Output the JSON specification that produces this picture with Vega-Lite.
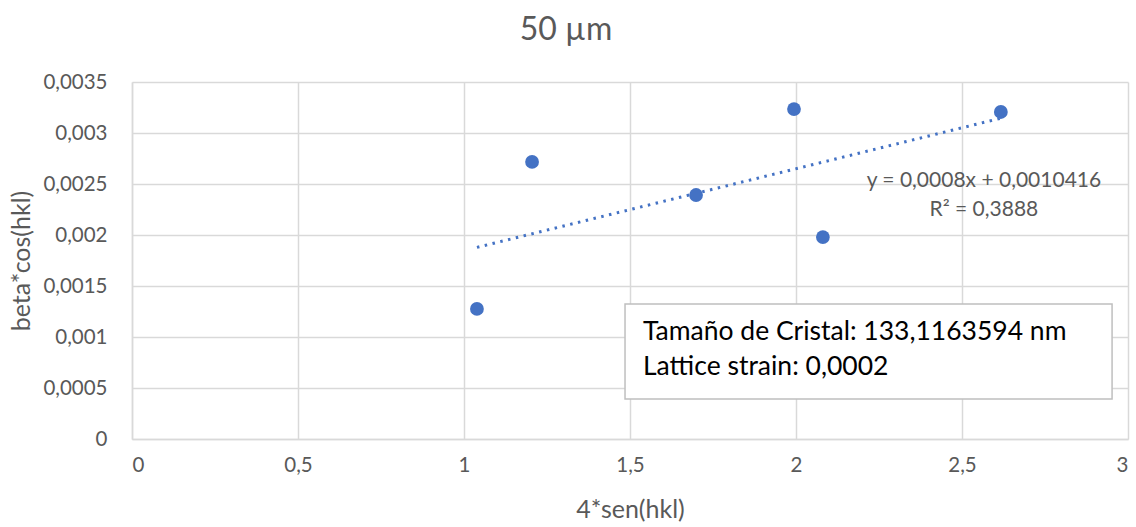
{
  "$schema": "https://vega.github.io/schema/vega-lite/v6.json",
  "autosize": {"type": "none"},
  "width": 996,
  "height": 357,
  "padding": {"left": 132, "top": 82, "right": 8, "bottom": 88},
  "background": "white",
  "title": {
    "text": "50 µm",
    "anchor": "middle",
    "dx": -64,
    "offset": 25,
    "fontSize": 32,
    "fontWeight": "normal",
    "font": "Lato",
    "color": "#595959"
  },
  "config": {
    "locale": {"number": {"decimal": ",", "thousands": ".", "grouping": [3], "currency": ["", " €"]}},
    "view": {"stroke": null},
    "font": "Lato",
    "axis": {
      "labelFont": "Lato",
      "titleFont": "Lato",
      "labelColor": "#595959",
      "titleColor": "#595959",
      "labelFontSize": 20.5,
      "titleFontSize": 25,
      "titleFontWeight": "normal",
      "gridColor": "#d9d9d9",
      "gridWidth": 1.5,
      "domainColor": "#d9d9d9",
      "domainWidth": 1.5,
      "ticks": false
    }
  },
  "datasets": {
    "points": [
      {"x": 1.039, "y": 0.001275},
      {"x": 1.205, "y": 0.002716},
      {"x": 1.699, "y": 0.002392},
      {"x": 1.994, "y": 0.003235},
      {"x": 2.081, "y": 0.00198},
      {"x": 2.617, "y": 0.003206}
    ],
    "labels": [
      {"t": "y = 0,0008x + 0,0010416", "kind": "eq1"},
      {"t": "R² = 0,3888", "kind": "eq2"},
      {"t": "Tamaño de Cristal: 133,1163594 nm", "kind": "box1"},
      {"t": "Lattice strain: 0,0002", "kind": "box2"}
    ]
  },
  "layer": [
    {
      "data": {"name": "points"},
      "transform": [{"regression": "y", "on": "x", "method": "linear"}],
      "mark": {"type": "line", "color": "#4472C4", "strokeWidth": 3, "strokeDash": [2.5, 5.5]},
      "encoding": {
        "x": {
          "field": "x",
          "type": "quantitative",
          "scale": {"domain": [0, 3], "nice": false, "zero": false},
          "axis": {
            "title": "4*sen(hkl)",
            "values": [0, 0.5, 1, 1.5, 2, 2.5, 3],
            "format": "~g",
            "labelPadding": 16,
            "titlePadding": 22
          }
        },
        "y": {
          "field": "y",
          "type": "quantitative",
          "scale": {"domain": [0, 0.0035], "nice": false},
          "axis": {
            "title": "beta*cos(hkl)",
            "values": [0, 0.0005, 0.001, 0.0015, 0.002, 0.0025, 0.003, 0.0035],
            "format": "~g",
            "labelPadding": 25,
            "titlePadding": 8
          }
        }
      }
    },
    {
      "data": {"name": "points"},
      "mark": {"type": "circle", "color": "#4472C4", "opacity": 1, "size": 190},
      "encoding": {
        "x": {"field": "x", "type": "quantitative"},
        "y": {"field": "y", "type": "quantitative"}
      }
    },
    {
      "data": {"name": "labels"},
      "transform": [{"filter": "datum.kind === 'eq1'"}],
      "mark": {"type": "text", "align": "center", "baseline": "middle", "fontSize": 21, "color": "#595959", "font": "Lato"},
      "encoding": {
        "x": {"datum": 2.566},
        "y": {"datum": 0.002529},
        "text": {"field": "t"}
      }
    },
    {
      "data": {"name": "labels"},
      "transform": [{"filter": "datum.kind === 'eq2'"}],
      "mark": {"type": "text", "align": "center", "baseline": "middle", "fontSize": 21, "color": "#595959", "font": "Lato"},
      "encoding": {
        "x": {"datum": 2.566},
        "y": {"datum": 0.002245},
        "text": {"field": "t"}
      }
    },
    {
      "data": {"name": "labels"},
      "transform": [{"filter": "datum.kind === 'box1'"}],
      "mark": {"type": "rect", "fill": "white", "stroke": "#bfbfbf", "strokeWidth": 1.5},
      "encoding": {
        "x": {"datum": 1.485},
        "x2": {"datum": 2.952},
        "y": {"datum": 0.001323},
        "y2": {"datum": 0.000392}
      }
    },
    {
      "data": {"name": "labels"},
      "transform": [{"filter": "datum.kind === 'box1'"}],
      "mark": {"type": "text", "align": "left", "baseline": "middle", "fontSize": 26.5, "color": "#000000", "font": "Lato"},
      "encoding": {
        "x": {"datum": 1.539},
        "y": {"datum": 0.001049},
        "text": {"field": "t"}
      }
    },
    {
      "data": {"name": "labels"},
      "transform": [{"filter": "datum.kind === 'box2'"}],
      "mark": {"type": "text", "align": "left", "baseline": "middle", "fontSize": 26.5, "color": "#000000", "font": "Lato"},
      "encoding": {
        "x": {"datum": 1.539},
        "y": {"datum": 0.000706},
        "text": {"field": "t"}
      }
    }
  ]
}
